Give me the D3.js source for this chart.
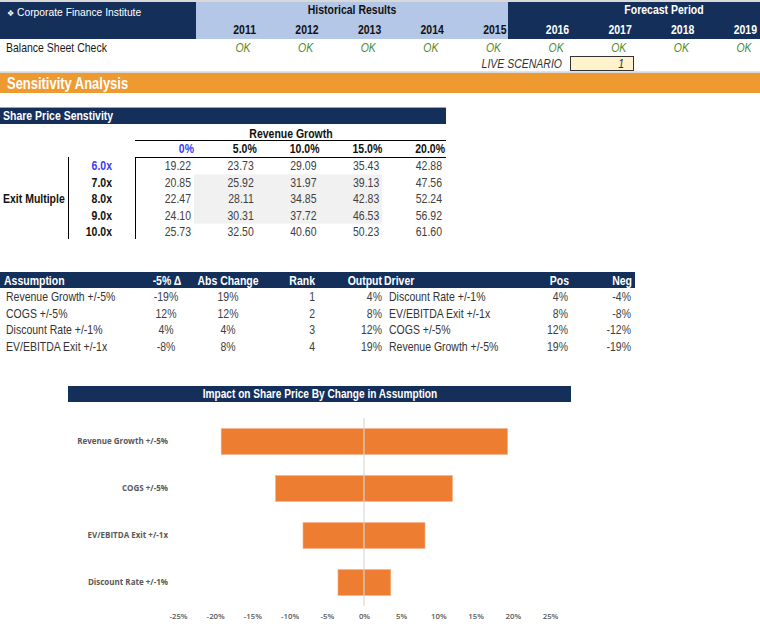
<!DOCTYPE html>
<html>
<head>
<meta charset="utf-8">
<script src="https://cdn.jsdelivr.net/npm/d3@7"></script>
<style>
html,body{margin:0;padding:0;background:#fff;}
svg{display:block;}
</style>
</head>
<body>
<svg id="c" width="760" height="635"></svg>
<script>
// ---------- DATA ----------
const years = [2011, 2012, 2013, 2014, 2015, 2016, 2017, 2018, 2019];
const balanceChecks = ["OK", "OK", "OK", "OK", "OK", "OK", "OK", "OK", "OK"];
const liveScenario = 1;

const growthLabels = ["0%", "5.0%", "10.0%", "15.0%", "20.0%"];
const multipleLabels = ["6.0x", "7.0x", "8.0x", "9.0x", "10.0x"];
const sharePrices = [
  [19.22, 23.73, 29.09, 35.43, 42.88],
  [20.85, 25.92, 31.97, 39.13, 47.56],
  [22.47, 28.11, 34.85, 42.83, 52.24],
  [24.10, 30.31, 37.72, 46.53, 56.92],
  [25.73, 32.50, 40.60, 50.23, 61.60]
];

const assumptionHeaders = ["Assumption", "-5% \u0394", "Abs Change", "Rank", "Output", "Driver", "Pos", "Neg"];
const assumptions = ["Revenue Growth +/-5%", "COGS +/-5%", "Discount Rate +/-1%", "EV/EBITDA Exit +/-1x"];
const deltaPct = ["-19%", "12%", "4%", "-8%"];
const absChange = ["19%", "12%", "4%", "8%"];
const ranks = [1, 2, 3, 4];
const outputs = ["4%", "8%", "12%", "19%"];
const drivers = ["Discount Rate +/-1%", "EV/EBITDA Exit +/-1x", "COGS +/-5%", "Revenue Growth +/-5%"];
const posVals = ["4%", "8%", "12%", "19%"];
const negVals = ["-4%", "-8%", "-12%", "-19%"];

const chartTitle = "Impact on Share Price By Change in Assumption";
const chartCategories = ["Revenue Growth +/-5%", "COGS +/-5%", "EV/EBITDA Exit +/-1x", "Discount Rate +/-1%"];
const chartPos = [0.193, 0.119, 0.082, 0.036];
const chartNeg = [-0.192, -0.119, -0.082, -0.035];
const xTicks = [-0.25, -0.20, -0.15, -0.10, -0.05, 0, 0.05, 0.10, 0.15, 0.20, 0.25];

// ---------- STYLE ----------
const NAVY = "#142f59", LBLUE = "#b4c7e7", ORANGE = "#ee9a31", BAR = "#ed7d31";
const FW = "'Liberation Sans',Arial,sans-serif";
const FC = "'Open Sans','Noto Sans',sans-serif";
const TXT = "#3a3a3a";
const SX = 0.84; // narrow-font emulation

const svg = d3.select("#c");
function txt(g, x, y, s, o) {
  o = o || {};
  const sx = o.sx || SX;
  return g.append("text").attr("transform", `scale(${sx},1)`)
    .attr("x", x / sx).attr("y", y).text(s)
    .attr("font-family", o.f || FW).attr("font-size", o.s || 12.5)
    .attr("font-weight", o.b ? "bold" : "normal")
    .attr("font-style", o.i ? "italic" : "normal")
    .attr("fill", o.c || TXT).attr("text-anchor", o.a || "start");
}

// ---------- TOP HEADER ----------
svg.append("rect").attr("x", 0).attr("y", 0).attr("width", 760).attr("height", 2).attr("fill", "#d9d9d9");
const yearX = d3.scaleBand().domain(years).range([193.4, 757]);
svg.append("rect").attr("x", 0).attr("y", 2).attr("width", 196).attr("height", 37).attr("fill", NAVY);
svg.append("rect").attr("x", 196).attr("y", 2).attr("width", 312).attr("height", 37).attr("fill", LBLUE);
svg.append("rect").attr("x", 508).attr("y", 2).attr("width", 252).attr("height", 37).attr("fill", NAVY);
txt(svg, 7, 15.5, "\u2756", { s: 8, c: "#fff", sx: 1 });
txt(svg, 17, 15.5, "Corporate Finance Institute", { s: 10.3, c: "#fff", sx: 1 });
txt(svg, 352, 14.5, "Historical Results", { b: 1, c: "#111", a: "middle" });
txt(svg, 664, 14.5, "Forecast Period", { b: 1, c: "#fff", a: "middle" });
years.forEach((yr, i) => {
  txt(svg, yearX(yr) + yearX.bandwidth(), 34.5, String(yr), { b: 1, c: i < 5 ? "#111" : "#fff", a: "end" });
  txt(svg, yearX(yr) + yearX.bandwidth() - 13, 52.5, balanceChecks[i], { i: 1, c: "#4f8a2c", a: "middle" });
});
txt(svg, 6, 52.5, "Balance Sheet Check", { c: "#1a1a1a" });
txt(svg, 562, 68.5, "LIVE SCENARIO", { i: 1, c: "#333", a: "end" });
svg.append("rect").attr("x", 570.5).attr("y", 56.5).attr("width", 63).attr("height", 14).attr("fill", "#fff2cc").attr("stroke", "#333");
txt(svg, 624, 68.5, String(liveScenario), { i: 1, c: "#333", a: "end" });

// ---------- SENSITIVITY BAND ----------
svg.append("rect").attr("x", 0).attr("y", 71.5).attr("width", 760).attr("height", 1.2).attr("fill", "#c8c8c8");
svg.append("rect").attr("x", 0).attr("y", 73).attr("width", 760).attr("height", 20).attr("fill", ORANGE);
txt(svg, 7, 89, "Sensitivity Analysis", { b: 1, s: 15.8, c: "#fff", sx: 0.82 });

// ---------- SHARE PRICE SENSITIVITY TABLE ----------
svg.append("rect").attr("x", 0).attr("y", 107).attr("width", 446).attr("height", 1).attr("fill", "#9aa3b5");
svg.append("rect").attr("x", 0).attr("y", 108).attr("width", 446).attr("height", 16).attr("fill", NAVY);
txt(svg, 3, 120.5, "Share Price Senstivity", { b: 1, c: "#fff" });

const colX = d3.scaleBand().domain(growthLabels).range([131.25, 445]);
const rowY = d3.scaleBand().domain(multipleLabels).range([158, 240]);

txt(svg, 291, 138, "Revenue Growth", { b: 1, c: "#111", a: "middle" });
svg.append("line").attr("x1", 135).attr("x2", 446).attr("y1", 140.5).attr("y2", 140.5).attr("stroke", "#000");
growthLabels.forEach((g, i) => {
  txt(svg, colX(g) + colX.bandwidth(), 153, g, { b: 1, c: i === 0 ? "#3b3bf5" : "#111", a: "end" });
});
svg.append("line").attr("x1", 135).attr("x2", 446).attr("y1", 157.5).attr("y2", 157.5).attr("stroke", "#000");
svg.append("line").attr("x1", 135.5).attr("x2", 135.5).attr("y1", 157).attr("y2", 239).attr("stroke", "#000");
svg.append("line").attr("x1", 68.5).attr("x2", 68.5).attr("y1", 157).attr("y2", 239).attr("stroke", "#000");
// shaded inner block
svg.append("rect")
  .attr("x", colX(growthLabels[1])).attr("y", rowY(multipleLabels[1]))
  .attr("width", colX(growthLabels[3]) + colX.bandwidth() - colX(growthLabels[1]))
  .attr("height", rowY(multipleLabels[3]) + rowY.bandwidth() - rowY(multipleLabels[1]))
  .attr("fill", "#f1f1f1");
multipleLabels.forEach((m, r) => {
  const cy = rowY(m) + rowY.bandwidth() / 2 + 4.3;
  txt(svg, 112, cy, m, { b: 1, c: r === 0 ? "#3b3bf5" : "#111", a: "end" });
  sharePrices[r].forEach((v, c) => {
    txt(svg, colX(growthLabels[c]) + colX.bandwidth() - 3, cy, v.toFixed(2), { c: "#404040", a: "end" });
  });
});
txt(svg, 3, 203, "Exit Multiple", { b: 1, c: "#111" });

// ---------- ASSUMPTION TABLE ----------
svg.append("rect").attr("x", 0).attr("y", 272).attr("width", 635).attr("height", 16).attr("fill", NAVY);
const hdrPos = [[4, "start"], [167, "middle"], [228, "middle"], [315, "end"], [382, "end"], [384, "start"], [569, "end"], [632, "end"]];
assumptionHeaders.forEach((h, i) => {
  txt(svg, hdrPos[i][0], 285, h, { b: 1, c: "#fff", a: hdrPos[i][1] });
});
const aRowY = d3.scaleBand().domain(assumptions).range([288.5, 354.5]);
assumptions.forEach((a, r) => {
  const by = aRowY(a) + aRowY.bandwidth() / 2 + 4.3;
  txt(svg, 6, by, a, { c: "#333" });
  txt(svg, 166, by, deltaPct[r], { c: "#404040", a: "middle" });
  txt(svg, 228, by, absChange[r], { c: "#404040", a: "middle" });
  txt(svg, 315, by, String(ranks[r]), { c: "#404040", a: "end" });
  txt(svg, 382, by, outputs[r], { c: "#404040", a: "end" });
  txt(svg, 389, by, drivers[r], { c: "#333" });
  txt(svg, 568, by, posVals[r], { c: "#404040", a: "end" });
  txt(svg, 631, by, negVals[r], { c: "#404040", a: "end" });
});

// ---------- TORNADO CHART ----------
svg.append("rect").attr("x", 68).attr("y", 386).attr("width", 503).attr("height", 16).attr("fill", NAVY);
txt(svg, 320, 398.5, chartTitle, { b: 1, c: "#fff", a: "middle", sx: 0.81 });

const x = d3.scaleLinear().domain([-0.25, 0.25]).range([178, 550]);
const y = d3.scaleBand().domain(chartCategories).range([418, 606]).paddingInner(0.447).paddingOuter(0.2235);
const chart = svg.append("g");

chart.selectAll("rect.neg").data(chartCategories).join("rect").attr("class", "neg")
  .attr("x", (d, i) => x(chartNeg[i])).attr("y", d => y(d))
  .attr("width", (d, i) => x(0) - x(chartNeg[i])).attr("height", y.bandwidth())
  .attr("fill", BAR).attr("stroke", "#f6b58a").attr("stroke-width", 0.6);
chart.selectAll("rect.pos").data(chartCategories).join("rect").attr("class", "pos")
  .attr("x", x(0)).attr("y", d => y(d))
  .attr("width", (d, i) => x(chartPos[i]) - x(0)).attr("height", y.bandwidth())
  .attr("fill", BAR).attr("stroke", "#f6b58a").attr("stroke-width", 0.6);
chart.append("line").attr("x1", x(0)).attr("x2", x(0)).attr("y1", 418).attr("y2", 606)
  .attr("stroke", "#d0d0d0").attr("stroke-width", 1);

const xAxis = chart.append("g").attr("transform", "translate(0,606)")
  .call(d3.axisBottom(x).tickValues(xTicks).tickSize(0).tickPadding(7)
    .tickFormat(d => Math.round(d * 100) + "%"));
xAxis.select(".domain").remove();
xAxis.selectAll("text").attr("font-family", FC).attr("font-size", 7.8).attr("font-weight", 600).attr("fill", "#595959");

const yAxis = chart.append("g").attr("transform", "translate(168,0)")
  .call(d3.axisLeft(y).tickSize(0).tickPadding(0));
yAxis.select(".domain").remove();
yAxis.selectAll("text").attr("font-family", FC).attr("font-size", 8).attr("font-weight", 700).attr("fill", "#595959");
</script>
</body>
</html>
